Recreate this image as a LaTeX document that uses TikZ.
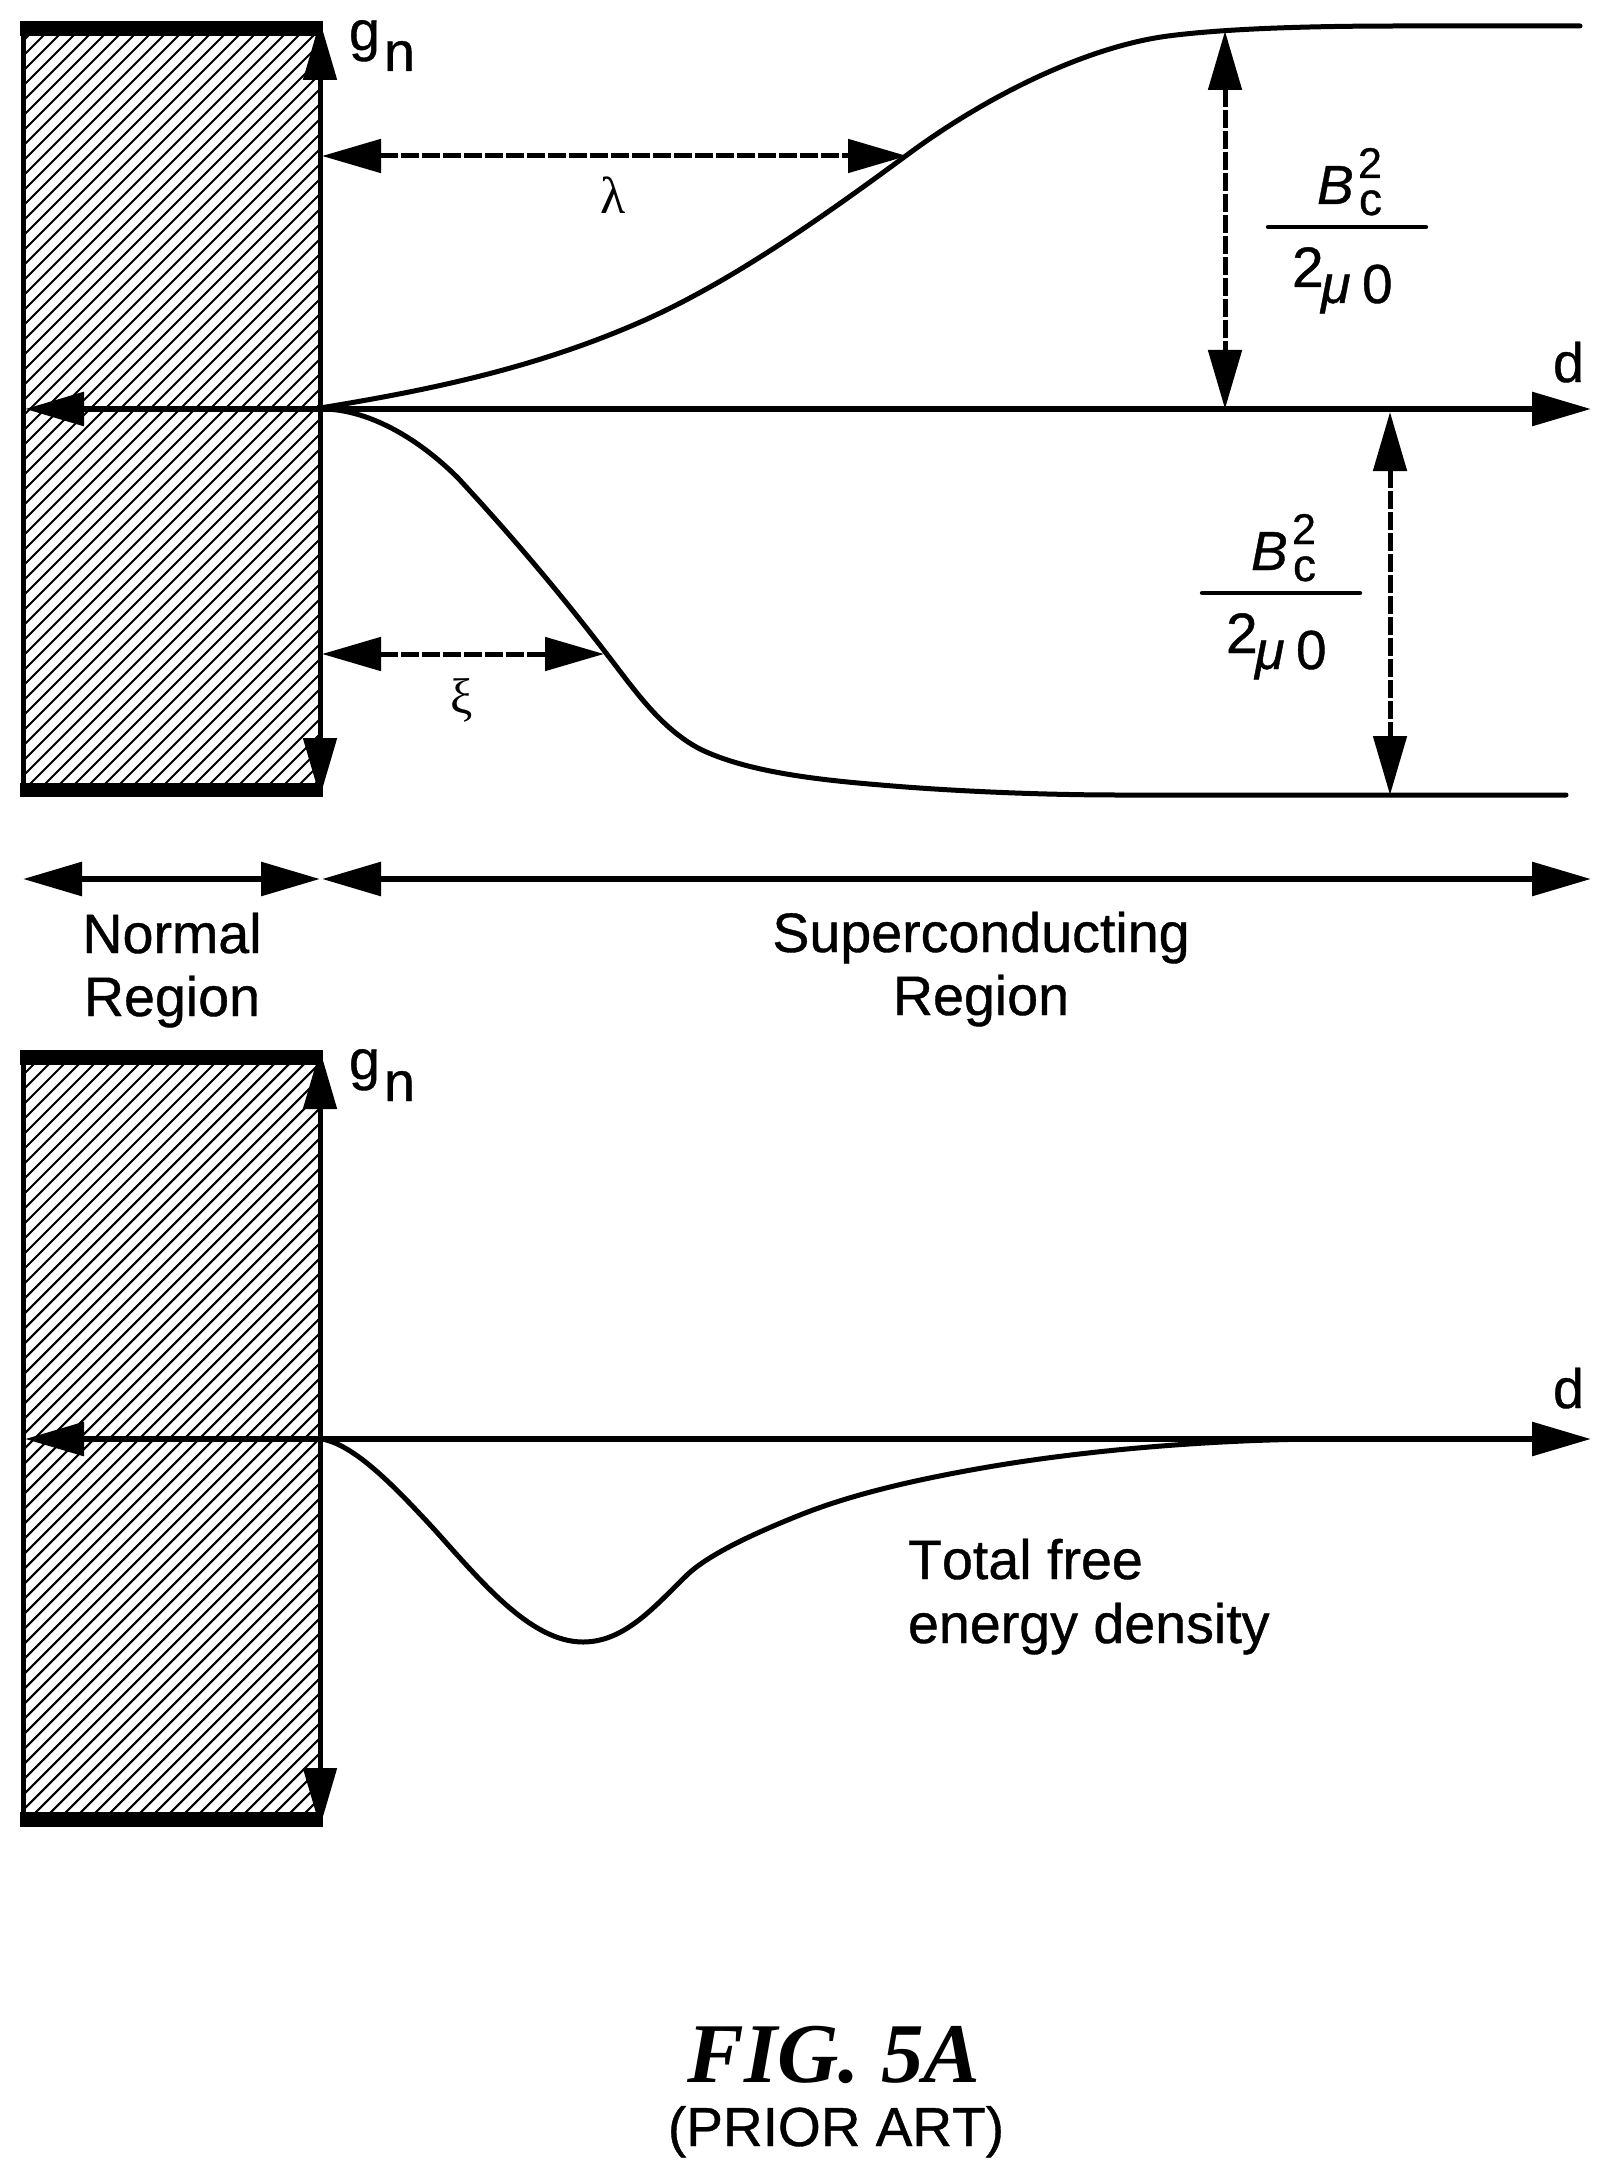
\documentclass[tikz,border=0pt]{standalone}
\usepackage{fontspec}
\setmainfont{Liberation Sans}[FakeBold=0.7,Kerning=Off]
\newfontfamily\serfont{Liberation Serif}
\usetikzlibrary{arrows.meta}
\newcommand{\fsz}[1]{\fontsize{#1}{#1}\selectfont}
\tikzset{
  tipbig/.tip={Triangle[length=29.5pt,width=16.5pt]},
  axisline/.style={line width=3pt,{tipbig}-{tipbig}},
  wallarrow/.style={line width=2.5pt,{tipbig}-{tipbig}},
  wall/.style={line width=2.5pt},
  curveline/.style={line width=2.5pt,line join=round,line cap=round},
  dimh/.style={line width=2.5pt,dash pattern=on 9pt off 1.5pt,{tipbig}-{tipbig}},
  dimv/.style={line width=2.5pt,dash pattern=on 9pt off 1.5pt,{tipbig}-{tipbig}},
  fracbar/.style={line width=2.2pt,line cap=round},
  bar/.style={fill=black},
  hatchline/.style={line width=1.05pt},
  tx/.style={inner sep=0pt,outer sep=0pt,anchor=base west},
  txc/.style={inner sep=0pt,outer sep=0pt,anchor=base},
  lab/.style={tx,font=\fsz{27.8pt}},
  labc/.style={txc,font=\fsz{27.8pt}},
}
\begin{document}
\begin{tikzpicture}[x=0.5pt,y=-0.5pt]
\useasboundingbox (0,0) rectangle (1611,2177);
% ---- hatched blocks
\begin{scope}
\clip (23,28) rectangle (320,790);
\foreach \c in {34,49,...,1129} \draw[hatchline] (0,\c) -- (\c,0);
\end{scope}
\begin{scope}
\clip (23,1057) rectangle (320,1820);
\foreach \c in {1068,1083,...,2148} \draw[hatchline] (0,\c) -- (\c,0);
\end{scope}
\fill[bar] (20,21) rectangle (323,36);
\fill[bar] (20,783) rectangle (323,797);
\fill[bar] (20,1050) rectangle (323,1065);
\fill[bar] (20,1812) rectangle (323,1827);
% ---- named points
\coordinate (w1a) at (23,21);   \coordinate (w1b) at (23,797);
\coordinate (g1a) at (320,21);  \coordinate (g1b) at (320,797);
\coordinate (w2a) at (23,1050); \coordinate (w2b) at (23,1827);
\coordinate (g2a) at (320,1050);\coordinate (g2b) at (320,1827);
\coordinate (ax1l) at (25,409); \coordinate (ax1r) at (1591,409);
\coordinate (ax2l) at (25,1439);\coordinate (ax2r) at (1591,1439);
\coordinate (nl) at (23,879);   \coordinate (nr) at (320,879);
\coordinate (sl) at (322,879);  \coordinate (sr) at (1591,879);
\coordinate (la) at (322,156);  \coordinate (lb) at (907,156);
\coordinate (xa) at (322,654);  \coordinate (xb) at (604,654);
\coordinate (v1a) at (1225,31); \coordinate (v1b) at (1225,409);
\coordinate (v2a) at (1390,412);\coordinate (v2b) at (1390,795);
\coordinate (f1a) at (1268,227);\coordinate (f1b) at (1426,227);
\coordinate (f2a) at (1202,593);\coordinate (f2b) at (1360,593);
% ---- walls and axes
\draw[wall] (w1a) -- (w1b);
\draw[wallarrow] (g1a) -- (g1b);
\draw[wall] (w2a) -- (w2b);
\draw[wallarrow] (g2a) -- (g2b);
\draw[axisline] (ax1l) -- (ax1r);
\draw[axisline] (ax2l) -- (ax2r);
\draw[axisline] (nl) -- (nr);
\draw[axisline] (sl) -- (sr);
% ---- curves
\draw[curveline] (320,408) .. controls (430,390) and (537,368) .. (645,320)
  .. controls (732,281) and (820,219) .. (907,155)
  .. controls (985,97) and (1085,47) .. (1168,36)
  .. controls (1230,28) and (1320,26) .. (1400,26) -- (1580,26);
\draw[curveline] (322,409) .. controls (365,409) and (415,435) .. (458,478)
  .. controls (508,532) and (556,588) .. (606,653)
  .. controls (636,692) and (660,727) .. (698,748)
  .. controls (745,772) and (820,780) .. (881,785)
  .. controls (950,791) and (1040,795) .. (1120,795) -- (1566,795);
\draw[curveline] (322,1439) .. controls (355,1445) and (395,1487) .. (433,1528)
  .. controls (480,1580) and (530,1642) .. (583,1642)
  .. controls (625,1642) and (655,1606) .. (687,1575)
  .. controls (710,1553) and (760,1531) .. (800,1515)
  .. controls (850,1495) and (910,1481) .. (971,1470)
  .. controls (1080,1450) and (1210,1440) .. (1317,1439);
% ---- dimension arrows
\draw[dimh] (la) -- (lb);
\draw[dimh] (xa) -- (xb);
\draw[dimv] (v1a) -- (v1b);
\draw[dimv] (v2a) -- (v2b);
\draw[fracbar] (f1a) -- (f1b);
\draw[fracbar] (f2a) -- (f2b);
% ---- labels
\node[lab] (g1) at (349,50) {g};
\node[lab] (n1) at (384,71) {n};
\node[lab] (g2) at (349,1079) {g};
\node[lab] (n2) at (384,1101) {n};
\node[lab] (d1) at (1553,382) {d};
\node[lab] (d2) at (1553,1408) {d};
\node[tx,font=\fsz{26pt}\serfont] (lam) at (600,214) {λ};
\node[tx,font=\fsz{25pt}\serfont] (xi) at (450,713) {ξ};
% fraction 1
\node[tx,font=\fsz{27.5pt}\itshape] (b1) at (1317,204) {B};
\node[tx,font=\fsz{21.5pt}] (s1) at (1358,178) {2};
\node[tx,font=\fsz{23pt}] (c1) at (1359,215) {c};
\node[tx,font=\fsz{28.5pt}] (t1) at (1292,287) {2};
\node[tx,font=\fsz{27pt}\itshape] (m1) at (1321,303) {μ};
\node[tx,font=\fsz{27.5pt}] (z1) at (1362,303) {0};
% fraction 2
\node[tx,font=\fsz{27.5pt}\itshape] (b2) at (1251,570) {B};
\node[tx,font=\fsz{21.5pt}] (s2) at (1292,544) {2};
\node[tx,font=\fsz{23pt}] (c2) at (1293,581) {c};
\node[tx,font=\fsz{28.5pt}] (t2) at (1226,653) {2};
\node[tx,font=\fsz{27pt}\itshape] (m2) at (1255,669) {μ};
\node[tx,font=\fsz{27.5pt}] (z2) at (1296,669) {0};
% regions
\node[labc] (nr1) at (172,953) {Normal};
\node[labc] (nr2) at (172,1016) {Region};
\node[labc] (sc1) at (981,952) {Superconducting};
\node[labc] (sc2) at (981,1015) {Region};
\node[lab] (tf1) at (908,1579) {Total free};
\node[lab] (tf2) at (908,1643) {energy density};
% caption
\node[txc,font=\fsz{42.5pt}\serfont\bfseries\itshape] (fig) at (834,2082) {FIG. 5A};
\node[txc,font=\fsz{27.5pt}] (pa) at (836,2146) {(PRIOR ART)};
\end{tikzpicture}
\end{document}
